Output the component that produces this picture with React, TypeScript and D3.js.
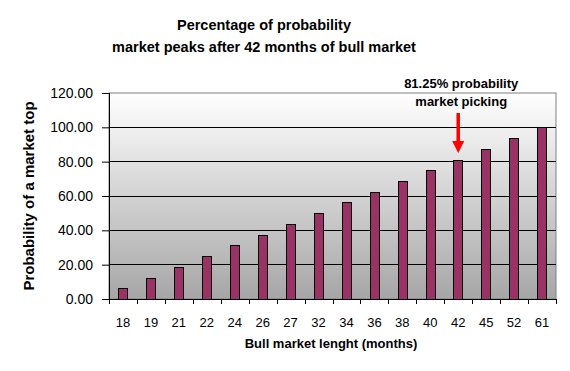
import { useEffect, useRef } from 'react'
import * as d3 from 'd3'

// bull market lengths (months) and probability of a top
const months = ['18', '19', '21', '22', '24', '26', '27', '32', '34', '36', '38', '40', '42', '45', '52', '61']
const probability = [6.25, 12.5, 18.75, 25, 31.25, 37.5, 43.75, 50, 56.25, 62.5, 68.75, 75, 81.25, 87.5, 93.75, 100]
const yTicks = [0, 20, 40, 60, 80, 100, 120]
const titleLines = ['Percentage of probability', 'market peaks after 42 months of bull market']
const noteLines = ['81.25% probability', 'market picking']
const noteCategory = '42'

export default function App() {
  const svgRef = useRef<SVGSVGElement>(null)

  useEffect(() => {
    if (!svgRef.current) return
    const width = 570
    const height = 371
    const marginL = 109
    const marginR = 14
    const marginT = 93
    const marginB = 72
    const chartW = width - marginL - marginR
    const chartH = height - marginT - marginB

    const svg = d3.select(svgRef.current)
    svg.selectAll('*').remove()
    svg.attr('width', width).attr('height', height)

    const font = 'Arial, "Liberation Sans", sans-serif'

    const defs = svg.append('defs')
    const grad = defs.append('linearGradient')
      .attr('id', 'plotBg').attr('x1', 0).attr('y1', 0).attr('x2', 0).attr('y2', 1)
    grad.append('stop').attr('offset', '0%').attr('stop-color', '#ffffff')
    grad.append('stop').attr('offset', '100%').attr('stop-color', '#a6a6a6')

    svg.append('rect').attr('width', width).attr('height', height).attr('fill', '#fff')

    // title
    svg.append('g').selectAll('text')
      .data(titleLines)
      .enter().append('text')
      .attr('x', 264)
      .attr('y', (d, i) => 30 + i * 22)
      .attr('text-anchor', 'middle')
      .attr('font-family', font)
      .attr('font-weight', 'bold')
      .attr('font-size', '14.5px')
      .attr('fill', '#000')
      .text(d => d)

    const g = svg.append('g').attr('transform', `translate(${marginL},${marginT})`)

    const x = d3.scaleBand().domain(months).range([0, chartW]).paddingInner(0.66).paddingOuter(0.33)
    const y = d3.scaleLinear().domain([0, 120]).range([chartH, 0])

    g.append('rect')
      .attr('width', chartW).attr('height', chartH)
      .attr('fill', 'url(#plotBg)')
      .attr('stroke', '#808080')

    // gridlines
    g.selectAll('.gridline')
      .data(yTicks.slice(1, -1))
      .enter().append('line')
      .attr('x1', 0).attr('x2', chartW)
      .attr('y1', d => y(d)).attr('y2', d => y(d))
      .attr('stroke', '#000')
      .attr('shape-rendering', 'crispEdges')

    // bars
    g.selectAll('.bar')
      .data(months.map((m, i) => ({ m, v: probability[i] })))
      .enter().append('rect')
      .attr('x', d => Math.round(x(d.m)!) + 0.5)
      .attr('y', d => Math.round(y(d.v)) + 0.5)
      .attr('width', Math.round(x.bandwidth()))
      .attr('height', d => Math.round(chartH - y(d.v)))
      .attr('fill', '#993366')
      .attr('stroke', '#000')

    // x axis
    const step = x.step()
    const xa = g.append('g').attr('transform', `translate(0,${chartH})`)
    xa.append('line').attr('x1', 0).attr('x2', chartW).attr('stroke', '#000').attr('shape-rendering', 'crispEdges')
    xa.selectAll('.tick')
      .data(d3.range(months.length + 1))
      .enter().append('line')
      .attr('x1', d => Math.round(d * step) + 0.5).attr('x2', d => Math.round(d * step) + 0.5)
      .attr('y1', 0).attr('y2', 5)
      .attr('stroke', '#000')
    xa.selectAll('.lbl')
      .data(months)
      .enter().append('text')
      .attr('x', d => x(d)! + x.bandwidth() / 2)
      .attr('y', 28)
      .attr('text-anchor', 'middle')
      .attr('font-family', font)
      .attr('font-size', '13px')
      .text(d => d)

    // y axis
    g.append('g')
      .call(d3.axisLeft(y).tickValues(yTicks).tickSize(7).tickFormat(d => (+d).toFixed(2)))
      .call(ax => {
        ax.select('.domain').remove()
        ax.selectAll('line').attr('stroke', '#000')
        ax.selectAll('text')
          .attr('font-family', font)
          .attr('font-size', '14px')
          .attr('fill', '#000')
          .attr('x', -16)
      })
    g.append('line').attr('x1', 0.5).attr('x2', 0.5).attr('y1', 0).attr('y2', chartH).attr('stroke', '#000')

    // axis titles
    svg.append('text')
      .attr('x', 331)
      .attr('y', 348)
      .attr('text-anchor', 'middle')
      .attr('font-family', font)
      .attr('font-weight', 'bold')
      .attr('font-size', '13px')
      .text('Bull market lenght (months)')

    svg.append('text')
      .attr('transform', `translate(34,${196}) rotate(-90)`)
      .attr('text-anchor', 'middle')
      .attr('font-family', font)
      .attr('font-weight', 'bold')
      .attr('font-size', '15px')
      .text('Probability of a market top')

    // annotation
    const cx = marginL + x(noteCategory)! + x.bandwidth() / 2
    svg.append('g').selectAll('text')
      .data(noteLines)
      .enter().append('text')
      .attr('x', cx + 3)
      .attr('y', (d, i) => 88 + i * 18)
      .attr('text-anchor', 'middle')
      .attr('font-family', '"Liberation Sans Narrow", Arial, sans-serif')
      .attr('font-weight', 'bold')
      .attr('font-size', '13px')
      .text(d => d)

    svg.append('line')
      .attr('x1', cx).attr('x2', cx)
      .attr('y1', 113).attr('y2', 142)
      .attr('stroke', '#ff0000').attr('stroke-width', 3.5)
    svg.append('path')
      .attr('d', `M${cx - 6},${141} L${cx + 6},${141} L${cx},${153} Z`)
      .attr('fill', '#ff0000')
  }, [])

  return <svg ref={svgRef} style={{ display: 'block', margin: '-8px' }} />
}
